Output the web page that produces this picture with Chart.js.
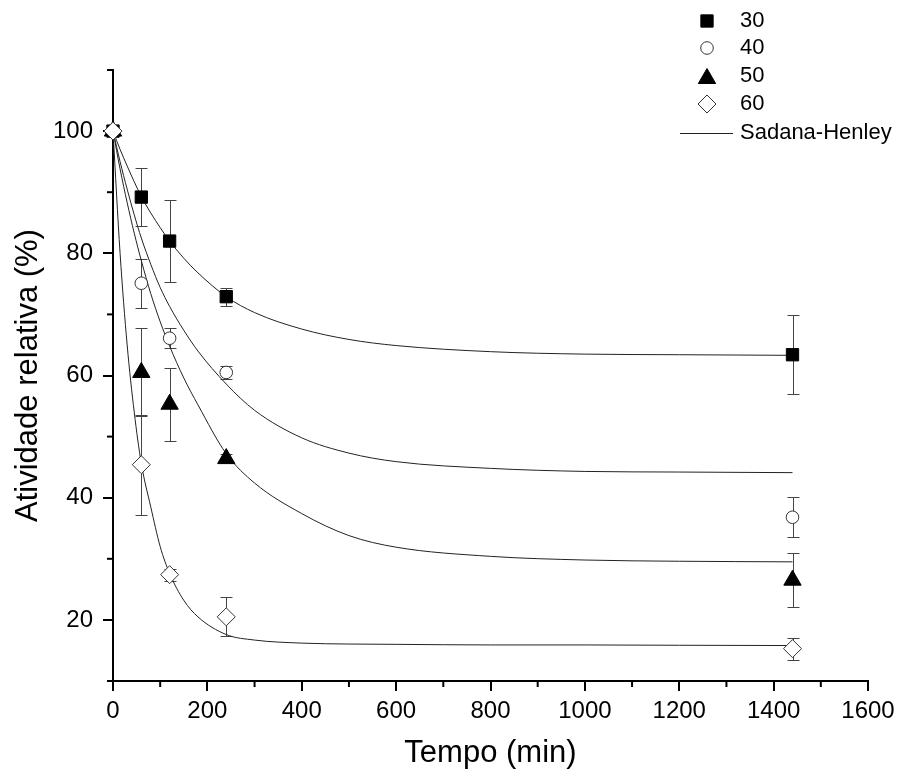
<!DOCTYPE html>
<html>
<head>
<meta charset="utf-8">
<script src="https://cdn.jsdelivr.net/npm/chart.js@4.4.1/dist/chart.umd.min.js"></script>
<style>
html,body{margin:0;padding:0;background:#fff;}
#wrap{width:901px;height:775px;position:relative;}
</style>
</head>
<body>
<div id="wrap"><canvas id="c" width="901" height="775"></canvas></div>
<script>
// ---- data ----
const timeMin = [0, 60, 120, 240, 1440];
const act30 = [100, 89.2, 82.0, 72.9, 63.4];
const err30 = [0, 4.8, 6.7, 1.5, 6.5];
const act40 = [100, 75.1, 66.1, 60.5, 36.8];
const err40 = [0, 4.0, 1.6, 1.0, 3.3];
const act50 = [100, 60.5, 55.3, 46.4, 26.5];
const err50 = [0, 7.2, 6.0, 0.8, 4.4];
const act60 = [100, 45.4, 27.4, 20.5, 15.3];
const err60 = [0, 8.2, 1.0, 3.2, 1.8];

const fitTime = [0, 15, 30, 45, 60, 80, 100, 120, 150, 180, 240, 300, 400, 500, 600, 800, 1000, 1200, 1440];
const fit30 = [100, 97.0, 94.3, 91.7, 89.3, 86.6, 84.2, 82.0, 79.2, 76.8, 72.9, 70.3, 67.6, 65.9, 64.9, 63.9, 63.5, 63.4, 63.3];
const fit40 = [100, 95.0, 90.5, 86.3, 82.5, 78.2, 74.4, 71.3, 67.4, 64.0, 58.6, 54.3, 49.8, 47.3, 45.9, 44.8, 44.3, 44.2, 44.1];
const fit50 = [100, 93.8, 88.3, 83.3, 78.8, 73.4, 68.8, 64.8, 59.6, 55.2, 47.2, 42.4, 37.4, 33.8, 31.9, 30.4, 29.8, 29.6, 29.5];
const fit60 = [100, 80.0, 65.0, 54.0, 45.6, 38.5, 32.0, 27.6, 23.2, 20.5, 17.6, 16.7, 16.2, 16.05, 16.0, 15.9, 15.9, 15.85, 15.8];

const seriesLabels = ['30', '40', '50', '60'];
const fitLabel = 'Sadana-Henley';
const xTitle = 'Tempo (min)';
const yTitle = 'Atividade relativa (%)';

const FONT = '"Liberation Sans", Arial, sans-serif';

const pts = (xs, ys) => xs.map((x, i) => ({x: x, y: ys[i]}));

const markerStyles = [
  {pointStyle: 'rect', radius: 8.7, bg: '#000', border: '#000'},
  {pointStyle: 'circle', radius: 6.3, bg: '#fff', border: '#333'},
  {pointStyle: 'triangle', radius: 10, bg: '#000', border: '#000'},
  {pointStyle: 'rectRot', radius: 9, bg: '#fff', border: '#333'}
];
const actAll = [act30, act40, act50, act60];
const errAll = [err30, err40, err50, err60];
const fitAll = [fit30, fit40, fit50, fit60];

const datasets = [];
actAll.forEach((arr, i) => {
  const m = markerStyles[i];
  datasets.push({
    label: seriesLabels[i],
    data: pts(timeMin, arr),
    errors: errAll[i],
    showLine: false,
    pointStyle: m.pointStyle,
    pointRadius: m.radius,
    pointHoverRadius: m.radius,
    pointBackgroundColor: m.bg,
    pointBorderColor: m.border,
    pointBorderWidth: 1,
    clip: false,
    order: 10 - i
  });
});
fitAll.forEach((arr, i) => {
  datasets.push({
    label: i === 0 ? fitLabel : '',
    data: pts(fitTime, arr),
    showLine: true,
    borderColor: '#222',
    borderWidth: 1,
    pointRadius: 0,
    cubicInterpolationMode: 'monotone',
    fill: false,
    order: 20
  });
});

// error bars (drawn under the markers)
const errorBarPlugin = {
  id: 'errorBars',
  beforeDatasetsDraw(chart) {
    const ctx = chart.ctx, xs = chart.scales.x, ys = chart.scales.y;
    ctx.save();
    ctx.strokeStyle = '#444';
    ctx.lineWidth = 1;
    chart.data.datasets.forEach(ds => {
      if (!ds.errors) return;
      ds.data.forEach((p, j) => {
        const e = ds.errors[j];
        if (!e) return;
        const px = Math.round(xs.getPixelForValue(p.x)) + 0.5;
        const yt = Math.round(ys.getPixelForValue(p.y + e)) + 0.5;
        const yb = Math.round(ys.getPixelForValue(p.y - e)) + 0.5;
        ctx.beginPath();
        ctx.moveTo(px, yt); ctx.lineTo(px, yb);
        ctx.moveTo(px - 6, yt); ctx.lineTo(px + 6, yt);
        ctx.moveTo(px - 6, yb); ctx.lineTo(px + 6, yb);
        ctx.stroke();
      });
    });
    ctx.restore();
  }
};

// minor ticks
const minorTickPlugin = {
  id: 'minorTicks',
  afterDraw(chart) {
    const ctx = chart.ctx, xs = chart.scales.x, ys = chart.scales.y;
    ctx.save();
    ctx.strokeStyle = '#000';
    ctx.lineWidth = 2;
    xs.ticks.forEach(t => {
      if (t.value % 200 !== 0) {
        const px = xs.getPixelForValue(t.value);
        ctx.beginPath(); ctx.moveTo(px, ys.bottom); ctx.lineTo(px, ys.bottom + 6); ctx.stroke();
      }
    });
    ys.ticks.forEach(t => {
      if (t.value % 20 !== 0) {
        const py = ys.getPixelForValue(t.value);
        ctx.beginPath(); ctx.moveTo(xs.left, py); ctx.lineTo(xs.left - 6, py); ctx.stroke();
      }
    });
    ctx.restore();
  }
};

function drawMarker(ctx, style, r, x, y, bg, border) {
  ctx.beginPath();
  if (style === 'rect') {
    const s = Math.SQRT1_2 * r;
    ctx.rect(x - s, y - s, 2 * s, 2 * s);
  } else if (style === 'circle') {
    ctx.arc(x, y, r, 0, Math.PI * 2);
  } else if (style === 'triangle') {
    ctx.moveTo(x, y - r);
    ctx.lineTo(x + r * Math.cos(Math.PI / 6), y + r / 2);
    ctx.lineTo(x - r * Math.cos(Math.PI / 6), y + r / 2);
    ctx.closePath();
  } else if (style === 'rectRot') {
    ctx.moveTo(x, y - r); ctx.lineTo(x + r, y); ctx.lineTo(x, y + r); ctx.lineTo(x - r, y);
    ctx.closePath();
  }
  ctx.fillStyle = bg; ctx.fill();
  ctx.strokeStyle = border; ctx.lineWidth = 1; ctx.stroke();
}

const legendPlugin = {
  id: 'customLegend',
  afterDraw(chart) {
    const ctx = chart.ctx;
    ctx.save();
    ctx.font = '22px ' + FONT;
    ctx.fillStyle = '#000';
    ctx.textBaseline = 'middle';
    ctx.textAlign = 'left';
    const rows = [21, 48, 76, 104];
    seriesLabels.forEach((lab, i) => {
      const m = markerStyles[i];
      drawMarker(ctx, m.pointStyle, m.radius, 707, rows[i] + (m.pointStyle === 'triangle' ? 2.5 : 0), m.bg, m.border);
      ctx.fillStyle = '#000';
      ctx.fillText(lab, 740, rows[i]);
    });
    ctx.strokeStyle = '#222';
    ctx.lineWidth = 1;
    ctx.beginPath(); ctx.moveTo(680, 133.5); ctx.lineTo(733, 133.5); ctx.stroke();
    ctx.fillStyle = '#000';
    ctx.fillText(fitLabel, 740, 133);
    ctx.restore();
  }
};

const majorColor = (every) => (c) => (c.tick && Math.abs(c.tick.value % every) < 1e-6) ? '#000' : 'rgba(0,0,0,0)';

new Chart(document.getElementById('c'), {
  type: 'scatter',
  data: { datasets: datasets },
  plugins: [errorBarPlugin, minorTickPlugin, legendPlugin],
  options: {
    responsive: false,
    animation: false,
    devicePixelRatio: 1,
    layout: { padding: { top: 70, right: 33, left: 0, bottom: 0 } },
    plugins: { legend: { display: false }, tooltip: { enabled: false } },
    scales: {
      x: {
        type: 'linear',
        min: 0, max: 1600,
        afterFit: s => { s.height = 94; },
        ticks: {
          stepSize: 100, autoSkip: false, maxRotation: 0,
          color: '#000', font: { family: FONT, size: 24 }, padding: 6,
          callback: v => (v % 200 === 0 ? String(v) : '')
        },
        grid: { drawOnChartArea: false, drawTicks: true, tickLength: 10, lineWidth: 2, color: majorColor(200), tickColor: majorColor(200) },
        border: { display: true, color: '#000', width: 2 },
        title: { display: true, text: xTitle, color: '#000', font: { family: FONT, size: 31 }, padding: { top: 0, bottom: 3 } }
      },
      y: {
        type: 'linear',
        min: 10, max: 110,
        afterFit: s => { s.width = 113; },
        ticks: {
          stepSize: 10, autoSkip: false,
          color: '#000', font: { family: FONT, size: 24 }, padding: 10,
          callback: v => (v % 20 === 0 ? String(v) : '')
        },
        grid: { drawOnChartArea: false, drawTicks: true, tickLength: 10, lineWidth: 2, color: majorColor(20), tickColor: majorColor(20) },
        border: { display: true, color: '#000', width: 2 },
        title: { display: true, text: yTitle, color: '#000', font: { family: FONT, size: 31 }, padding: { top: 10, bottom: 0 } }
      }
    }
  }
});
</script>
</body>
</html>
